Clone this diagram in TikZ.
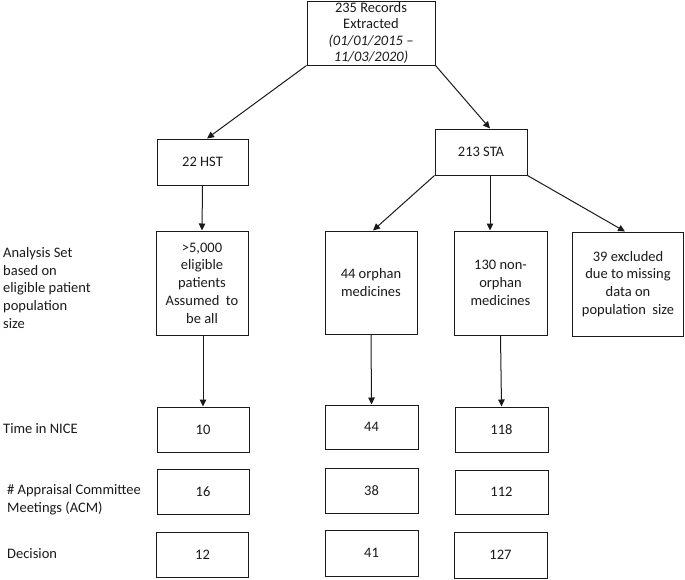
\documentclass[tikz,border=0pt]{standalone}
\usepackage{fontspec}
\setmainfont{Carlito}
\usetikzlibrary{arrows.meta}
\definecolor{ink}{HTML}{1A1A1A}
\tikzset{
  box/.style={draw=ink, line width=1pt, rectangle, inner sep=0pt, align=center, text=ink,
    font=\fontsize{14.5}{17.8}\selectfont},
  lbl/.style={anchor=west, align=left, inner sep=0pt, text=ink, font=\fontsize{14.5}{17.8}\selectfont},
  arr/.style={draw=ink, line width=1pt, -{Triangle[length=7pt,width=6.5pt]}},
}
\begin{document}
\begin{tikzpicture}[x=1pt,y=-1pt]
\useasboundingbox (0,0) rectangle (685,579);
% top
\node[box, minimum width=128, minimum height=64, font=\fontsize{14.5}{16.6}\selectfont] (top) at (371,33)
  {235 Records\\Extracted\\\textit{(01/01/2015 –}\\\textit{11/03/2020)}};
\node[box, minimum width=91, minimum height=46] (hst) at (202.5,162) {22 HST};
\node[box, minimum width=92, minimum height=46] (sta) at (481,152) {213 STA};
% analysis set
\node[box, minimum width=92, minimum height=104] (big) at (202,283)
  {{>}5,000\\eligible\\patients\\Assumed\ \ to\\be all};
\node[box, minimum width=92, minimum height=103] (orph) at (371,282.5) {44 orphan\\medicines};
\node[box, minimum width=93, minimum height=104] (non) at (500.5,283) {130 non-\\orphan\\medicines};
\node[box, minimum width=111, minimum height=104] (excl) at (628,284)
  {39 excluded\\due to missing\\data on\\population\ \ size};
% rows
\node[box, minimum width=92, minimum height=45] (a1) at (203,429.5) {10};
\node[box, minimum width=93, minimum height=44] (b1) at (371.5,427) {44};
\node[box, minimum width=93, minimum height=45] (c1) at (501.5,429.5) {118};
\node[box, minimum width=92, minimum height=45] (a2) at (203,491.5) {16};
\node[box, minimum width=93, minimum height=45] (b2) at (371.5,490.5) {38};
\node[box, minimum width=93, minimum height=44] (c2) at (501.5,492) {112};
\node[box, minimum width=92, minimum height=45] (a3) at (202.5,554.5) {12};
\node[box, minimum width=93, minimum height=46] (b3) at (371.5,553) {41};
\node[box, minimum width=93, minimum height=46] (c3) at (500.5,555) {127};
% labels
\node[lbl] (lset) at (3,288) {Analysis Set\\based on\\eligible patient\\population\\size};
\node[lbl] (ltime) at (3,429) {Time in NICE};
\node[lbl] (lacm) at (7,500) {\# Appraisal Committee\\Meetings (ACM)};
\node[lbl] (ldec) at (7,554) {Decision};
% connectors
\draw[arr] (top.south west) -- ([xshift=4.5pt]hst.north);
\draw[arr] (top.south east) -- ([xshift=9pt]sta.north);
\draw[arr] (hst.south) -- (big.north);
\draw[arr] (sta.south west) -- ([xshift=2pt]orph.north);
\draw[arr] ([xshift=9pt]sta.south) -- ([xshift=-10.5pt]non.north);
\draw[arr] (sta.south east) -- ([xshift=-3pt]excl.north);
\draw[arr] ([xshift=1pt]big.south) -- (a1.north);
\draw[arr] (orph.south) -- (b1.north);
\draw[arr] (non.south) -- (c1.north);
\end{tikzpicture}
\end{document}
